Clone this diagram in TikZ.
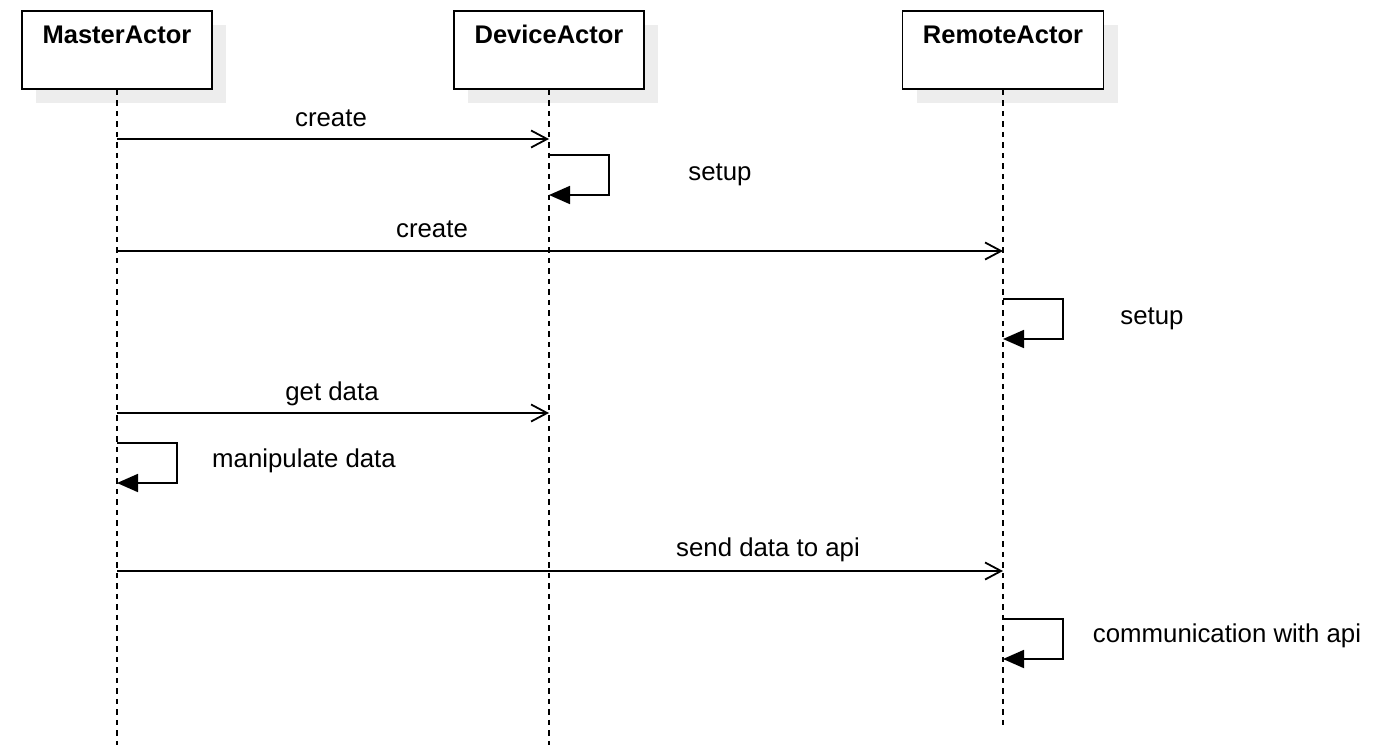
\documentclass[tikz,border=0pt]{standalone}
\usepackage{fontspec}
\setmainfont{Liberation Sans}
\usetikzlibrary{arrows.meta, shadows, positioning}

\tikzset{
  actor/.style={draw, line width=1.8pt, fill=white, minimum width=190pt,
    minimum height=78pt, inner sep=0pt,
    drop shadow={shadow xshift=14pt, shadow yshift=-14pt, fill=black!7, opacity=1}},
  actorname/.style={anchor=base, inner sep=0pt, font=\fontsize{25.5}{30}\selectfont\bfseries},
  lbl/.style={anchor=base, inner sep=0pt, font=\fontsize{25.8}{30}\selectfont},
  lifeline/.style={line width=1.7pt, dash pattern=on 5.5pt off 5pt},
  msg/.style={line width=1.8pt, -{Straight Barb[length=16pt, width=17pt]}},
  selfmsg/.style={line width=1.8pt, -{Triangle[length=21pt, width=18pt]}}
}

\begin{document}
\begin{tikzpicture}[x=1pt, y=-1pt]
  \useasboundingbox (0,0) rectangle (1384,750);

  % Akteure
  \node[actor] (ma) at (117,50) {};
  \node[actor] (da) at (549,50) {};
  \node[actor, minimum width=201pt] (ra) at (1003,50) {};
  \node[actorname] at ([yshift=-33pt]ma.north) {MasterActor};
  \node[actorname] at ([yshift=-33pt]da.north) {DeviceActor};
  \node[actorname] at ([yshift=-33pt]ra.north) {RemoteActor};

  % Lebenslinien
  \coordinate (ma-end) at (117,745);
  \coordinate (da-end) at (549,745);
  \coordinate (ra-end) at (1003,730);
  \draw[lifeline] (ma.south) -- (ma-end);
  \draw[lifeline] (da.south) -- (da-end);
  \draw[lifeline] (ra.south) -- (ra-end);

  % create / setup
  \draw[msg] (ma |- 0,139) -- (da |- 0,139);
  \node[lbl] at (331,126) {create};
  \draw[selfmsg] (da |- 0,155) -| ++(60,40) -- (da |- 0,195);
  \node[lbl] at (720,180) {setup};

  \draw[msg] (ma |- 0,251) -- (ra |- 0,251);
  \node[lbl] at (432,237) {create};
  \draw[selfmsg] (ra |- 0,299) -| ++(60,40) -- (ra |- 0,339);
  \node[lbl] at (1152,324) {setup};

  % Daten
  \draw[msg] (ma |- 0,413) -- (da |- 0,413);
  \node[lbl] at (332,400) {get data};
  \draw[selfmsg] (ma |- 0,443) -| ++(60,40) -- (ma |- 0,483);
  \node[lbl] at (304,467) {manipulate data};

  \draw[msg] (ma |- 0,571) -- (ra |- 0,571);
  \node[lbl] at (768,556) {send data to api};
  \draw[selfmsg] (ra |- 0,619) -| ++(60,40) -- (ra |- 0,659);
  \node[lbl] at (1227,642) {communication with api};
\end{tikzpicture}
\end{document}
